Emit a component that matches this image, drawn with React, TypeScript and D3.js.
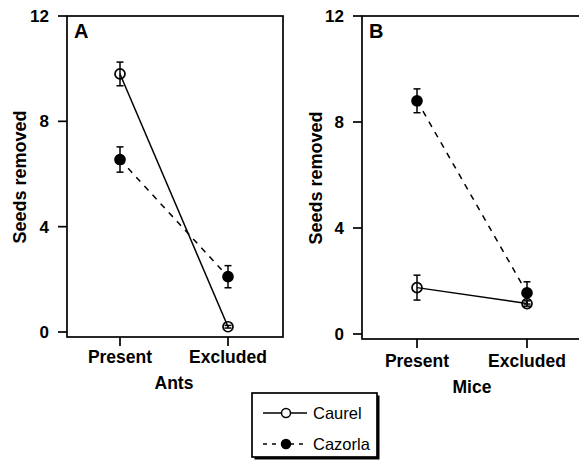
import React from "react";
import * as d3 from "d3";

const categories = ["Present", "Excluded"];
const yTicks = [0, 4, 8, 12];
const seriesNames = ["Caurel", "Cazorla"];

const antsCaurel = [9.8, 0.2];
const antsCaurelErr = [0.45, 0.05];
const antsCazorla = [6.55, 2.1];
const antsCazorlaErr = [0.48, 0.42];

const miceCaurel = [1.75, 1.15];
const miceCaurelErr = [0.47, 0.1];
const miceCazorla = [8.8, 1.55];
const miceCazorlaErr = [0.45, 0.42];

const FONT = "'Liberation Sans', Arial, Helvetica, sans-serif";

type Series = { values: number[]; errs: number[]; filled: boolean; dashed: boolean };

function Panel(props: {
  letter: string;
  title: string;
  left: number;
  right: number;
  top: number;
  bottom: number;
  y0: number;
  xr: [number, number];
  labelX: number;
  series: Series[];
  tickLabelY: number;
  titleY: number;
}) {
  const { letter, title, left, right, top, bottom, y0, xr, labelX, series, tickLabelY, titleY } = props;
  const y = d3.scaleLinear().domain([0, 12]).range([y0, top]);
  const x = d3.scalePoint<string>().domain(categories).range(xr);
  const line = d3
    .line<number>()
    .x((_, i) => x(categories[i]) as number)
    .y((v) => y(v));
  const cx = (xr[0] + xr[1]) / 2;
  return (
    <g>
      <rect x={left} y={top} width={right - left} height={bottom - top} fill="none" stroke="#000" strokeWidth={1.7} />
      {yTicks.map((t) => (
        <g key={t}>
          <line x1={left - 9} x2={left} y1={y(t)} y2={y(t)} stroke="#000" strokeWidth={1.7} />
          <text x={left - 18} y={y(t)} dy="0.36em" textAnchor="end" fontFamily={FONT} fontWeight="bold" fontSize={17}>
            {t}
          </text>
        </g>
      ))}
      {categories.map((c) => (
        <g key={c}>
          <line x1={x(c)} x2={x(c)} y1={bottom} y2={bottom + 9} stroke="#000" strokeWidth={1.7} />
          <text x={x(c)} y={tickLabelY} textAnchor="middle" fontFamily={FONT} fontWeight="bold" fontSize={17.5}>
            {c}
          </text>
        </g>
      ))}
      <text x={cx} y={titleY} textAnchor="middle" fontFamily={FONT} fontWeight="bold" fontSize={17.5}>
        {title}
      </text>
      <text
        transform={`translate(${labelX},${(top + y0) / 2 + 3}) rotate(-90)`}
        textAnchor="middle"
        fontFamily={FONT}
        fontWeight="bold"
        fontSize={18}
      >
        Seeds removed
      </text>
      <text x={left + 7} y={38} fontFamily={FONT} fontWeight="bold" fontSize={20}>
        {letter}
      </text>
      {series.map((s, si) => (
        <path
          key={"l" + si}
          d={line(s.values) || ""}
          fill="none"
          stroke="#000"
          strokeWidth={1.5}
          strokeDasharray={s.dashed ? "6,6" : undefined}
        />
      ))}
      {series.map((s, si) =>
        s.values.map((v, i) => {
          const px = x(categories[i]) as number;
          const hi = y(v + s.errs[i]);
          const lo = y(v - s.errs[i]);
          return (
            <g key={"e" + si + i}>
              <line x1={px} x2={px} y1={hi} y2={lo} stroke="#000" strokeWidth={1.5} />
              <line x1={px - 3.5} x2={px + 3.5} y1={hi} y2={hi} stroke="#000" strokeWidth={1.5} />
              <line x1={px - 3.5} x2={px + 3.5} y1={lo} y2={lo} stroke="#000" strokeWidth={1.5} />
              <circle cx={px} cy={y(v)} r={5} fill={s.filled ? "#000" : "none"} stroke="#000" strokeWidth={1.7} />
            </g>
          );
        })
      )}
    </g>
  );
}

export default function App() {
  const lx1 = 263;
  const lx2 = 307;
  const rows = [413, 444];
  return (
    <svg width={579} height={460} style={{ position: "absolute", left: 0, top: 0 }}>
      <rect width={579} height={460} fill="#fff" />
      <Panel
        letter="A"
        title="Ants"
        left={67}
        right={283}
        top={16}
        bottom={337}
        y0={332}
        xr={[120, 228]}
        labelX={26}
        tickLabelY={363}
        titleY={389}
        series={[
          { values: antsCaurel, errs: antsCaurelErr, filled: false, dashed: false },
          { values: antsCazorla, errs: antsCazorlaErr, filled: true, dashed: true },
        ]}
      />
      <Panel
        letter="B"
        title="Mice"
        left={362}
        right={620}
        top={16}
        bottom={339}
        y0={334}
        xr={[417, 527]}
        labelX={322}
        tickLabelY={367}
        titleY={393}
        series={[
          { values: miceCaurel, errs: miceCaurelErr, filled: false, dashed: false },
          { values: miceCazorla, errs: miceCazorlaErr, filled: true, dashed: true },
        ]}
      />
      <g>
        <rect x={254.5} y={395.5} width={125} height={64} fill="#000" />
        <rect x={252} y={393} width={125} height={64} fill="#fff" stroke="#000" strokeWidth={1.7} />
        {seriesNames.map((n, i) => (
          <g key={n}>
            <line
              x1={lx1}
              x2={lx2}
              y1={rows[i]}
              y2={rows[i]}
              stroke="#000"
              strokeWidth={1.5}
              strokeDasharray={i === 1 ? "4,5" : undefined}
            />
            <circle
              cx={(lx1 + lx2) / 2 + 1}
              cy={rows[i]}
              r={4.5}
              fill={i === 1 ? "#000" : "#fff"}
              stroke="#000"
              strokeWidth={1.5}
            />
            <text x={313} y={rows[i]} dy="0.36em" fontFamily={FONT} fontSize={16.5}>
              {n}
            </text>
          </g>
        ))}
      </g>
    </svg>
  );
}
